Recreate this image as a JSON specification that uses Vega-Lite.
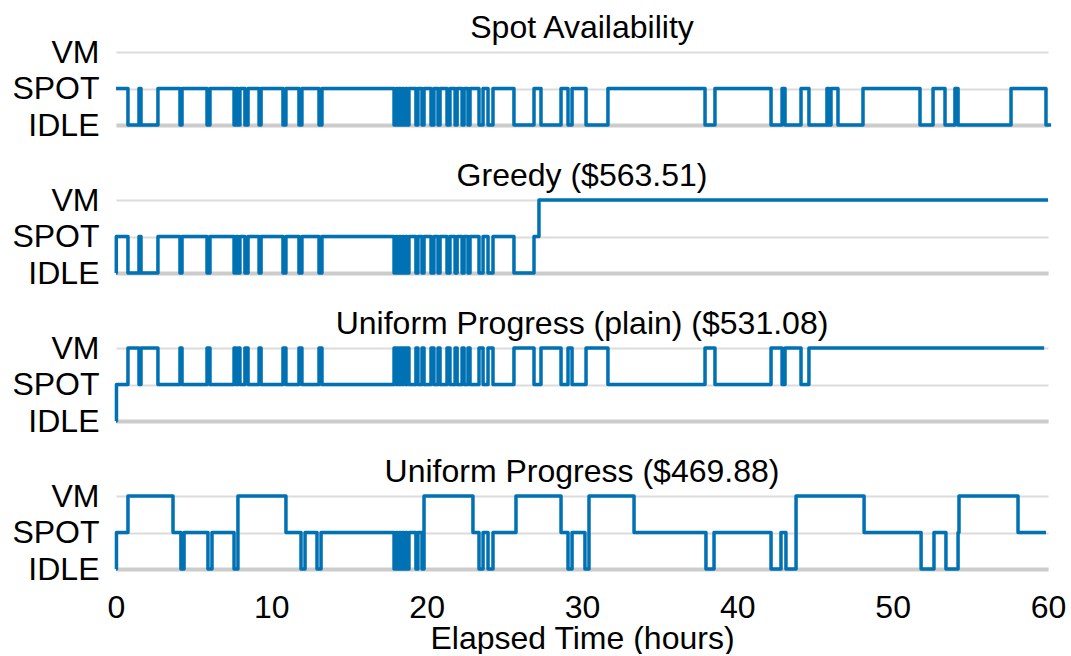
{
  "$schema": "https://vega.github.io/schema/vega-lite/v6.json",
  "padding": {"left": 11, "top": 12, "right": 10, "bottom": 0},
  "background": "white",
  "config": {
    "font": "Liberation Sans",
    "view": {"stroke": null},
    "title": {"fontSize": 32, "fontWeight": "normal", "color": "#000000", "offset": -9, "font": "Liberation Sans"},
    "axis": {"labelFont": "Liberation Sans", "titleFont": "Liberation Sans", "labelColor": "#000000", "titleColor": "#000000", "labelFontSize": 32, "titleFontSize": 32, "titleFontWeight": "normal"},
    "concat": {"spacing": 19}
  },
  "data": {"values": [
    {"p":"a","t":0,"v":1},{"p":"a","t":0.77,"v":0},{"p":"a","t":1.48,"v":1},{"p":"a","t":1.61,"v":0},{"p":"a","t":2.70,"v":1},{"p":"a","t":4.12,"v":0},{"p":"a","t":4.25,"v":1},{"p":"a","t":5.86,"v":0},{"p":"a","t":6.05,"v":1},{"p":"a","t":7.60,"v":0},{"p":"a","t":7.73,"v":1},{"p":"a","t":7.85,"v":0},{"p":"a","t":7.98,"v":1},{"p":"a","t":8.30,"v":0},{"p":"a","t":8.50,"v":1},{"p":"a","t":9.21,"v":0},{"p":"a","t":9.34,"v":1},{"p":"a","t":10.75,"v":0},{"p":"a","t":10.94,"v":1},{"p":"a","t":11.78,"v":0},{"p":"a","t":11.97,"v":1},{"p":"a","t":13.07,"v":0},{"p":"a","t":13.26,"v":1},{"p":"a","t":17.90,"v":0},{"p":"a","t":18.03,"v":1},{"p":"a","t":18.13,"v":0},{"p":"a","t":18.22,"v":1},{"p":"a","t":18.32,"v":0},{"p":"a","t":18.41,"v":1},{"p":"a","t":18.51,"v":0},{"p":"a","t":18.64,"v":1},{"p":"a","t":18.74,"v":0},{"p":"a","t":18.86,"v":1},{"p":"a","t":19.31,"v":0},{"p":"a","t":19.44,"v":1},{"p":"a","t":19.70,"v":0},{"p":"a","t":19.83,"v":1},{"p":"a","t":20.28,"v":0},{"p":"a","t":20.47,"v":1},{"p":"a","t":20.73,"v":0},{"p":"a","t":20.86,"v":1},{"p":"a","t":21.31,"v":0},{"p":"a","t":21.50,"v":1},{"p":"a","t":21.83,"v":0},{"p":"a","t":21.96,"v":1},{"p":"a","t":22.28,"v":0},{"p":"a","t":22.41,"v":1},{"p":"a","t":22.66,"v":0},{"p":"a","t":22.79,"v":1},{"p":"a","t":23.37,"v":0},{"p":"a","t":23.63,"v":1},{"p":"a","t":23.95,"v":0},{"p":"a","t":24.27,"v":1},{"p":"a","t":25.62,"v":0},{"p":"a","t":26.91,"v":1},{"p":"a","t":27.36,"v":0},{"p":"a","t":28.65,"v":1},{"p":"a","t":29.10,"v":0},{"p":"a","t":29.36,"v":1},{"p":"a","t":30.26,"v":0},{"p":"a","t":31.67,"v":1},{"p":"a","t":37.92,"v":0},{"p":"a","t":38.56,"v":1},{"p":"a","t":42.17,"v":0},{"p":"a","t":42.88,"v":1},{"p":"a","t":43.07,"v":0},{"p":"a","t":44.10,"v":1},{"p":"a","t":44.61,"v":0},{"p":"a","t":45.77,"v":1},{"p":"a","t":45.90,"v":0},{"p":"a","t":46.03,"v":1},{"p":"a","t":46.48,"v":0},{"p":"a","t":48.09,"v":1},{"p":"a","t":51.76,"v":0},{"p":"a","t":52.60,"v":1},{"p":"a","t":53.37,"v":0},{"p":"a","t":54.01,"v":1},{"p":"a","t":54.21,"v":0},{"p":"a","t":57.62,"v":1},{"p":"a","t":59.87,"v":0},{"p":"a","t":60.2,"v":0},

    {"p":"b","t":0,"v":0},{"p":"b","t":0.02,"v":1},{"p":"b","t":0.77,"v":0},{"p":"b","t":1.48,"v":1},{"p":"b","t":1.61,"v":0},{"p":"b","t":2.70,"v":1},{"p":"b","t":4.12,"v":0},{"p":"b","t":4.25,"v":1},{"p":"b","t":5.86,"v":0},{"p":"b","t":6.05,"v":1},{"p":"b","t":7.60,"v":0},{"p":"b","t":7.73,"v":1},{"p":"b","t":7.85,"v":0},{"p":"b","t":7.98,"v":1},{"p":"b","t":8.30,"v":0},{"p":"b","t":8.50,"v":1},{"p":"b","t":9.21,"v":0},{"p":"b","t":9.34,"v":1},{"p":"b","t":10.75,"v":0},{"p":"b","t":10.94,"v":1},{"p":"b","t":11.78,"v":0},{"p":"b","t":11.97,"v":1},{"p":"b","t":13.07,"v":0},{"p":"b","t":13.26,"v":1},{"p":"b","t":17.90,"v":0},{"p":"b","t":18.03,"v":1},{"p":"b","t":18.13,"v":0},{"p":"b","t":18.22,"v":1},{"p":"b","t":18.32,"v":0},{"p":"b","t":18.41,"v":1},{"p":"b","t":18.51,"v":0},{"p":"b","t":18.64,"v":1},{"p":"b","t":18.74,"v":0},{"p":"b","t":18.86,"v":1},{"p":"b","t":19.31,"v":0},{"p":"b","t":19.44,"v":1},{"p":"b","t":19.70,"v":0},{"p":"b","t":19.83,"v":1},{"p":"b","t":20.28,"v":0},{"p":"b","t":20.47,"v":1},{"p":"b","t":20.73,"v":0},{"p":"b","t":20.86,"v":1},{"p":"b","t":21.31,"v":0},{"p":"b","t":21.50,"v":1},{"p":"b","t":21.83,"v":0},{"p":"b","t":21.96,"v":1},{"p":"b","t":22.28,"v":0},{"p":"b","t":22.41,"v":1},{"p":"b","t":22.66,"v":0},{"p":"b","t":22.79,"v":1},{"p":"b","t":23.37,"v":0},{"p":"b","t":23.63,"v":1},{"p":"b","t":23.95,"v":0},{"p":"b","t":24.27,"v":1},{"p":"b","t":25.62,"v":0},{"p":"b","t":26.91,"v":1},{"p":"b","t":27.23,"v":2},{"p":"b","t":60,"v":2},

    {"p":"c","t":0,"v":0},{"p":"c","t":0.03,"v":1},{"p":"c","t":0.77,"v":2},{"p":"c","t":1.48,"v":1},{"p":"c","t":1.61,"v":2},{"p":"c","t":2.70,"v":1},{"p":"c","t":4.12,"v":2},{"p":"c","t":4.25,"v":1},{"p":"c","t":5.86,"v":2},{"p":"c","t":6.05,"v":1},{"p":"c","t":7.60,"v":2},{"p":"c","t":7.73,"v":1},{"p":"c","t":7.85,"v":2},{"p":"c","t":7.98,"v":1},{"p":"c","t":8.30,"v":2},{"p":"c","t":8.50,"v":1},{"p":"c","t":9.21,"v":2},{"p":"c","t":9.34,"v":1},{"p":"c","t":10.75,"v":2},{"p":"c","t":10.94,"v":1},{"p":"c","t":11.78,"v":2},{"p":"c","t":11.97,"v":1},{"p":"c","t":13.07,"v":2},{"p":"c","t":13.26,"v":1},{"p":"c","t":17.90,"v":2},{"p":"c","t":18.03,"v":1},{"p":"c","t":18.13,"v":2},{"p":"c","t":18.22,"v":1},{"p":"c","t":18.32,"v":2},{"p":"c","t":18.41,"v":1},{"p":"c","t":18.51,"v":2},{"p":"c","t":18.64,"v":1},{"p":"c","t":18.74,"v":2},{"p":"c","t":18.86,"v":1},{"p":"c","t":19.31,"v":2},{"p":"c","t":19.44,"v":1},{"p":"c","t":19.70,"v":2},{"p":"c","t":19.83,"v":1},{"p":"c","t":20.28,"v":2},{"p":"c","t":20.47,"v":1},{"p":"c","t":20.73,"v":2},{"p":"c","t":20.86,"v":1},{"p":"c","t":21.31,"v":2},{"p":"c","t":21.50,"v":1},{"p":"c","t":21.83,"v":2},{"p":"c","t":21.96,"v":1},{"p":"c","t":22.28,"v":2},{"p":"c","t":22.41,"v":1},{"p":"c","t":22.66,"v":2},{"p":"c","t":22.79,"v":1},{"p":"c","t":23.37,"v":2},{"p":"c","t":23.63,"v":1},{"p":"c","t":23.95,"v":2},{"p":"c","t":24.27,"v":1},{"p":"c","t":25.62,"v":2},{"p":"c","t":26.91,"v":1},{"p":"c","t":27.36,"v":2},{"p":"c","t":28.65,"v":1},{"p":"c","t":29.10,"v":2},{"p":"c","t":29.36,"v":1},{"p":"c","t":30.26,"v":2},{"p":"c","t":31.67,"v":1},{"p":"c","t":37.92,"v":2},{"p":"c","t":38.56,"v":1},{"p":"c","t":42.17,"v":2},{"p":"c","t":42.88,"v":1},{"p":"c","t":43.07,"v":2},{"p":"c","t":44.10,"v":1},{"p":"c","t":44.61,"v":2},{"p":"c","t":59.75,"v":2},

    {"p":"d","t":0,"v":0},{"p":"d","t":0.03,"v":1},{"p":"d","t":0.77,"v":2},{"p":"d","t":3.67,"v":1},{"p":"d","t":4.18,"v":0},{"p":"d","t":4.38,"v":1},{"p":"d","t":5.92,"v":0},{"p":"d","t":6.18,"v":1},{"p":"d","t":7.60,"v":0},{"p":"d","t":7.85,"v":2},{"p":"d","t":10.94,"v":1},{"p":"d","t":11.91,"v":0},{"p":"d","t":12.17,"v":1},{"p":"d","t":12.94,"v":0},{"p":"d","t":13.20,"v":1},{"p":"d","t":17.90,"v":0},{"p":"d","t":18.03,"v":1},{"p":"d","t":18.13,"v":0},{"p":"d","t":18.22,"v":1},{"p":"d","t":18.32,"v":0},{"p":"d","t":18.41,"v":1},{"p":"d","t":18.51,"v":0},{"p":"d","t":18.64,"v":1},{"p":"d","t":18.74,"v":0},{"p":"d","t":18.86,"v":1},{"p":"d","t":19.31,"v":0},{"p":"d","t":19.44,"v":1},{"p":"d","t":19.70,"v":0},{"p":"d","t":19.83,"v":2},{"p":"d","t":22.98,"v":1},{"p":"d","t":23.37,"v":0},{"p":"d","t":23.63,"v":1},{"p":"d","t":23.95,"v":0},{"p":"d","t":24.27,"v":1},{"p":"d","t":25.75,"v":2},{"p":"d","t":28.65,"v":1},{"p":"d","t":29.10,"v":0},{"p":"d","t":29.36,"v":1},{"p":"d","t":30.19,"v":0},{"p":"d","t":30.45,"v":2},{"p":"d","t":33.35,"v":1},{"p":"d","t":37.98,"v":0},{"p":"d","t":38.50,"v":1},{"p":"d","t":42.17,"v":0},{"p":"d","t":42.81,"v":1},{"p":"d","t":43.13,"v":0},{"p":"d","t":43.78,"v":2},{"p":"d","t":48.16,"v":1},{"p":"d","t":51.83,"v":0},{"p":"d","t":52.66,"v":1},{"p":"d","t":53.43,"v":0},{"p":"d","t":54.21,"v":1},{"p":"d","t":54.27,"v":2},{"p":"d","t":58.07,"v":1},{"p":"d","t":59.87,"v":1}
  ]},
  "vconcat": [
    {
      "title": "Spot Availability",
      "width": 932, "height": 73,
      "transform": [{"filter": "datum.p === 'a'"}],
      "mark": {"type": "line", "interpolate": "step-after", "color": "#0071b3", "strokeWidth": 3.5, "strokeJoin": "round", "clip": false},
      "encoding": {
        "x": {"field": "t", "type": "quantitative", "scale": {"domain": [0, 60], "nice": false}, "axis": {"labels": false, "ticks": false, "grid": false, "domain": true, "domainColor": "#cccccc", "domainWidth": 4, "title": null}},
        "y": {"field": "v", "type": "quantitative", "scale": {"domain": [0, 2], "nice": false}, "axis": {"values": [0, 1, 2], "labelExpr": "datum.value == 2 ? 'VM' : datum.value == 1 ? 'SPOT' : 'IDLE'", "ticks": false, "domain": false, "grid": true, "gridColor": "#dcdcdc", "gridWidth": 2, "labelPadding": 17, "title": null}}
      }
    },
    {
      "title": "Greedy ($563.51)",
      "width": 932, "height": 73,
      "transform": [{"filter": "datum.p === 'b'"}],
      "mark": {"type": "line", "interpolate": "step-after", "color": "#0071b3", "strokeWidth": 3.5, "strokeJoin": "round", "clip": false},
      "encoding": {
        "x": {"field": "t", "type": "quantitative", "scale": {"domain": [0, 60], "nice": false}, "axis": {"labels": false, "ticks": false, "grid": false, "domain": true, "domainColor": "#cccccc", "domainWidth": 4, "title": null}},
        "y": {"field": "v", "type": "quantitative", "scale": {"domain": [0, 2], "nice": false}, "axis": {"values": [0, 1, 2], "labelExpr": "datum.value == 2 ? 'VM' : datum.value == 1 ? 'SPOT' : 'IDLE'", "ticks": false, "domain": false, "grid": true, "gridColor": "#dcdcdc", "gridWidth": 2, "labelPadding": 17, "title": null}}
      }
    },
    {
      "title": "Uniform Progress (plain) ($531.08)",
      "width": 932, "height": 73,
      "transform": [{"filter": "datum.p === 'c'"}],
      "mark": {"type": "line", "interpolate": "step-after", "color": "#0071b3", "strokeWidth": 3.5, "strokeJoin": "round", "clip": false},
      "encoding": {
        "x": {"field": "t", "type": "quantitative", "scale": {"domain": [0, 60], "nice": false}, "axis": {"labels": false, "ticks": false, "grid": false, "domain": true, "domainColor": "#cccccc", "domainWidth": 4, "title": null}},
        "y": {"field": "v", "type": "quantitative", "scale": {"domain": [0, 2], "nice": false}, "axis": {"values": [0, 1, 2], "labelExpr": "datum.value == 2 ? 'VM' : datum.value == 1 ? 'SPOT' : 'IDLE'", "ticks": false, "domain": false, "grid": true, "gridColor": "#dcdcdc", "gridWidth": 2, "labelPadding": 17, "title": null}}
      }
    },
    {
      "title": "Uniform Progress ($469.88)",
      "width": 932, "height": 73,
      "transform": [{"filter": "datum.p === 'd'"}],
      "mark": {"type": "line", "interpolate": "step-after", "color": "#0071b3", "strokeWidth": 3.5, "strokeJoin": "round", "clip": false},
      "encoding": {
        "x": {"field": "t", "type": "quantitative", "scale": {"domain": [0, 60], "nice": false}, "axis": {"values": [0, 10, 20, 30, 40, 50, 60], "labels": true, "labelFlush": false, "labelPadding": 23, "ticks": false, "grid": false, "domain": true, "domainColor": "#cccccc", "domainWidth": 4, "title": "Elapsed Time (hours)", "titlePadding": 0}},
        "y": {"field": "v", "type": "quantitative", "scale": {"domain": [0, 2], "nice": false}, "axis": {"values": [0, 1, 2], "labelExpr": "datum.value == 2 ? 'VM' : datum.value == 1 ? 'SPOT' : 'IDLE'", "ticks": false, "domain": false, "grid": true, "gridColor": "#dcdcdc", "gridWidth": 2, "labelPadding": 17, "title": null}}
      }
    }
  ]
}
